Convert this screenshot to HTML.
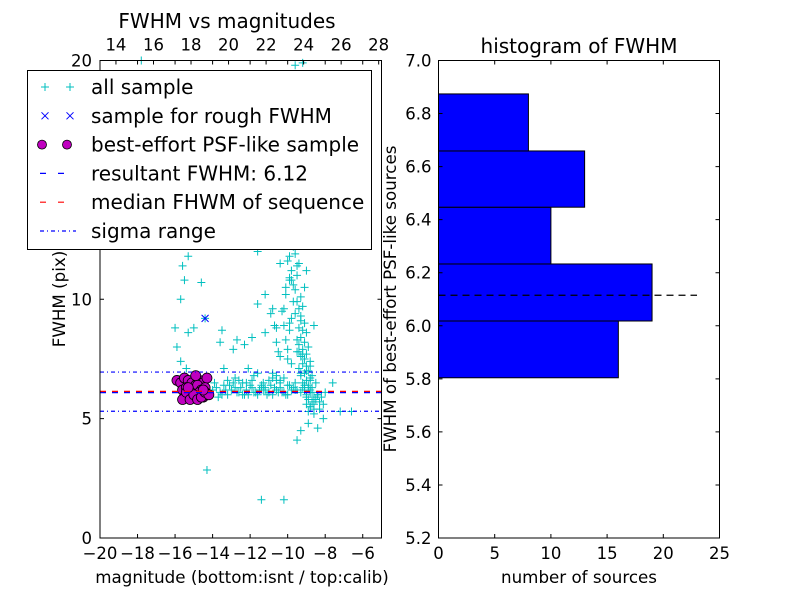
<!DOCTYPE html>
<html><head><meta charset="utf-8"><style>
body{margin:0;background:#fff}
svg text{font-family:"DejaVu Sans","Liberation Sans",sans-serif;fill:#000}
</style></head><body>
<svg id="fig" width="800" height="600" xmlns="http://www.w3.org/2000/svg">
<rect width="800" height="600" fill="#fff"/>
<g id="left"></g>
<g id="right"></g>
</svg>
<script>
// ---- data ----
const allMag=[
-9.6,-9.7,-9.5,-9.4,-9.8,-9.6,-9.5,-9.7,-9.9,-9.6,
-9.8,-9.7,-9.5,-9.9,-10.0,-9.6,-9.4,-9.8,-9.5,-9.7,
-9.9,-10.1,-9.6,-9.3,-9.5,-9.2,-9.4,-9.6,-9.8,-9.3,
-9.1,-9.4,-9.2,-9.0,-9.3,-9.5,-9.1,-8.9,-9.2,-9.4,
-9.0,-9.3,-9.1,-8.8,-9.2,-9.0,-9.4,-8.9,-9.1,-9.3,
-8.8,-9.0,-9.2,-8.9,-8.7,-9.1,-8.8,-9.0,-8.6,-8.9,
-8.7,-9.0,-8.8,-8.6,-8.9,-8.5,-8.7,-8.8,-8.4,-8.6,
-14.0,-13.8,-13.6,-13.4,-13.2,-13.0,-12.8,-12.6,-12.4,-12.2,
-12.0,-11.8,-11.6,-11.4,-11.2,-11.0,-10.8,-10.6,-10.4,-10.2,
-10.0,-9.8,-13.9,-13.5,-13.1,-12.7,-12.3,-11.9,-11.5,-11.1,
-10.7,-10.3,-9.9,-9.5,-13.7,-13.3,-12.9,-12.5,-12.1,-11.7,
-11.3,-10.9,-10.5,-10.1,-9.7,-9.3,-11.9,-11.3,-10.8,-10.4,
-10.0,-9.6,-9.2,-8.8,-8.4,-8.2,-8.0,-8.3,-8.5,-8.1,
-15.6,-15.3,-15.7,-15.5,-16.0,-15.9,-15.3,-15.0,-14.4,-13.6,
-12.9,-11.9,-11.2,-12.3,-13.4,-12.1,-15.7,-15.4,-14.3,-11.4,
-10.2,-9.5,-8.6,-8.1,-7.2,-6.6,-8.4,-8.9,-9.3,-7.6,
-10.6,-10.9,-11.2,-10.4,-10.8,-11.4,-11.6,-10.5,-10.1,-9.9,
-10.3,-9.7,-9.5,-9.9,-9.2,-9.0,-10.2,-9.6,-9.8,-9.4,
-14.6,-13.5,-12.7,-11.6,-10.7,-10.0,-9.1,-8.6,-17.8,-9.2,
-10.3,-10.1,-9.9,-9.7,-10.4,-10.2,-9.8,-10.0,-10.6,-10.8,
-9.4,-9.2,-9.0,-8.8,-9.3,-9.1,-8.9,-8.7,-9.5,-9.3,
-11.0,-10.6,-10.2,-9.8,-11.4,-10.8,-10.4,-12.6,-12.2,-11.8,
-13.2,-12.8,-12.4,-11.6,-11.2,-10.6,-9.6,-9.0,-8.8,-8.3];
const allFwhm=[
19.8,18.5,17.6,16.8,16.0,15.2,14.6,13.9,13.4,13.0,
12.6,12.2,12.4,11.8,11.6,11.9,11.5,11.2,11.0,10.6,
10.8,10.2,10.4,10.1,9.9,9.7,9.6,9.4,9.2,9.1,
9.0,8.8,8.7,8.6,8.4,8.3,8.2,8.0,7.9,7.8,
7.7,7.6,7.5,7.4,7.3,7.2,7.1,7.0,6.9,6.8,
6.7,6.6,6.5,6.4,6.3,6.2,6.1,6.0,5.9,5.8,
5.7,5.6,5.5,5.4,5.3,6.5,6.8,7.2,6.0,5.6,
6.2,6.3,6.1,6.4,6.0,6.2,6.3,6.1,6.0,6.2,
6.4,6.1,6.0,6.3,6.2,6.1,6.0,6.2,6.3,6.1,
6.0,6.2,6.5,6.0,6.4,6.1,6.0,6.3,6.2,6.0,
6.3,6.1,6.4,6.2,5.9,6.2,6.5,6.3,6.0,6.1,
6.2,6.4,6.1,6.0,6.3,6.1,6.6,6.5,6.7,6.6,
6.4,6.5,6.3,6.2,6.0,5.9,6.1,5.7,5.8,5.6,
11.4,11.8,10.0,10.8,8.8,8.0,8.6,8.8,9.2,8.2,
7.9,8.4,8.6,8.1,7.1,7.1,7.4,7.1,2.85,1.6,
1.6,4.1,5.2,5.0,5.3,5.3,4.6,4.8,4.5,6.5,
8.8,9.4,10.2,11.5,12.9,13.6,12.0,7.8,8.3,9.0,
14.2,12.8,11.4,10.9,12.6,11.2,9.6,17.2,13.6,14.9,
10.7,8.7,8.3,9.8,8.9,7.5,10.5,8.9,20.0,19.9,
9.5,10.5,8.7,9.9,7.6,8.9,10.8,7.9,8.2,9.6,
8.1,7.7,7.0,6.6,6.9,6.4,6.3,6.1,7.8,9.3,
6.6,6.8,6.7,7.3,6.4,6.9,6.5,6.6,6.5,6.8,
6.6,6.7,6.5,6.9,6.3,6.6,6.2,5.9,5.5,5.4];
const psfMag=[-15.9,-15.7,-15.5,-15.3,-15.1,-14.9,-14.7,-14.5,-14.3,-15.6,-15.4,-15.2,-15.0,-14.8,-14.6,-14.4,-15.5,-15.3,-15.1,-14.9,-14.7,-14.5,-14.3,-15.6,-15.4,-15.2,-15.0,-14.8,-14.6,-14.4,-14.2,-15.3,-14.9,-14.5];
const psfFwhm=[6.6,6.5,6.7,6.6,6.5,6.4,6.6,6.5,6.7,6.2,6.3,6.1,6.2,6.4,6.2,6.3,5.9,6.0,5.9,6.0,6.1,5.9,6.0,5.8,6.1,5.8,6.0,5.8,5.9,6.1,6.0,6.3,6.8,6.2];
const roughMag=[-14.4];
const roughFwhm=[9.2];
const resultFwhm=6.12, medianFwhm=6.11, sigmaLo=5.31, sigmaHi=6.95;
const xTicks=[-20,-18,-16,-14,-12,-10,-8,-6];
const topTicks=[14,16,18,20,22,24,26,28];
const yTicks=[0,5,10,20];
const binEdges=[5.804,6.018,6.233,6.447,6.659,6.874];
const binCounts=[16,19,10,13,8];
const histX=[0,5,10,15,20,25];
const histY=[5.2,5.4,5.6,5.8,6.0,6.2,6.4,6.6,6.8,7.0];
const histLineLen=23;

const NS="http://www.w3.org/2000/svg";
function mk(p,t,a){const e=document.createElementNS(NS,t);for(const k in a)e.setAttribute(k,a[k]);p.appendChild(e);return e;}
const L=document.getElementById('left'),R=document.getElementById('right');
const lx0=100,lx1=381.5,ly0=538,ly1=60.5;
const sx=v=>lx0+(v+20)/15*(lx1-lx0);
const sy=v=>ly0-v/20*(ly0-ly1);
const calOff=33.15;
const tx=v=>sx(v-calOff);
allMag.forEach((m,i)=>{const x=sx(m),y=sy(allFwhm[i]);if(y<ly1)return;
 const g=mk(L,'path',{d:`M${x-4},${y}h8M${x},${y-4}v8`,stroke:'#00bfbf','stroke-width':1,fill:'none'});
 
 });
roughMag.forEach((m,i)=>{const x=sx(m),y=sy(roughFwhm[i]);
 const g=mk(L,'path',{d:`M${x-3.5},${y-3.5}l7,7M${x-3.5},${y+3.5}l7,-7`,stroke:'#0000ff','stroke-width':1});
 
 });
psfMag.forEach((m,i)=>{const c=mk(L,'circle',{cx:sx(m),cy:sy(psfFwhm[i]),r:5,fill:'#bf00bf',stroke:'#000','stroke-width':0.8});
 
 });
function hl(v,col,dash,name){const e=mk(L,'line',{x1:lx0,x2:lx1,y1:sy(v),y2:sy(v),stroke:col,'stroke-width':1.2,'stroke-dasharray':dash});
 }
hl(medianFwhm+0.03,'#ff0000','6 6','median-line');
hl(resultFwhm-0.03,'#0000ff','6 6','resultant-line');
hl(sigmaHi,'#0000ff','4 3 1 3','sigma-upper-line');
hl(sigmaLo,'#0000ff','4 3 1 3','sigma-lower-line');
mk(L,'rect',{x:lx0,y:ly1,width:lx1-lx0,height:ly0-ly1,fill:'none',stroke:'#000','stroke-width':1});
xTicks.forEach(v=>{const x=sx(v);mk(L,'path',{d:`M${x},${ly0}v-4M${x},${ly1}v4`,stroke:'#000'});
 const t=mk(L,'text',{x:x,y:ly0+21,'font-size':16.5,'text-anchor':'middle'});t.textContent=(v<0?'\u2212'+(-v):v);
 });
topTicks.forEach(v=>{const x=tx(v);mk(L,'path',{d:`M${x},${ly1}v4`,stroke:'#000'});
 const t=mk(L,'text',{x:x,y:ly1-10,'font-size':16.5,'text-anchor':'middle'});t.textContent=v;
 });
yTicks.forEach(v=>{const y=sy(v);mk(L,'path',{d:`M${lx0},${y}h4M${lx1},${y}h-4`,stroke:'#000'});
 const t=mk(L,'text',{x:lx0-8,y:y+6,'font-size':16.5,'text-anchor':'end'});t.textContent=v;
 });
let t=mk(L,'text',{x:227,y:28,'font-size':20,'text-anchor':'middle'});t.textContent='FWHM vs magnitudes';

t=mk(L,'text',{x:242,y:583,'font-size':16.7,'text-anchor':'middle'});t.textContent='magnitude (bottom:isnt / top:calib)';

t=mk(L,'text',{x:0,y:0,'font-size':16.7,'text-anchor':'middle',transform:'translate(65,299) rotate(-90)'});t.textContent='FWHM (pix)';

const lg=mk(L,'g',{});
mk(lg,'rect',{x:27.5,y:70.5,width:344,height:179,fill:'#fff',stroke:'#000','stroke-width':1});
const labels=['all sample','sample for rough FWHM','best-effort PSF-like sample','resultant FWHM: 6.12','median FHWM of sequence','sigma range'];
labels.forEach((s,i)=>{const y=87+i*28.8;
 [45,70].forEach(x=>{
  if(i==0)mk(lg,'path',{d:`M${x-4},${y}h8M${x},${y-4}v8`,stroke:'#00bfbf'});
  if(i==1)mk(lg,'path',{d:`M${x-3.5},${y-3.5}l7,7M${x-3.5},${y+3.5}l7,-7`,stroke:'#0000ff'});
  if(i==2)mk(lg,'circle',{cx:x-3,cy:y,r:4.5,fill:'#bf00bf',stroke:'#000','stroke-width':0.8});
 });
 if(i==3)mk(lg,'line',{x1:40,x2:76,y1:y,y2:y,stroke:'#0000ff','stroke-dasharray':'6 12','stroke-width':1.2});
 if(i==4)mk(lg,'line',{x1:40,x2:76,y1:y,y2:y,stroke:'#ff0000','stroke-dasharray':'6 12','stroke-width':1.2});
 if(i==5)mk(lg,'line',{x1:40,x2:76,y1:y,y2:y,stroke:'#0000ff','stroke-dasharray':'4 3 1 3','stroke-width':1.2});
 const tt=mk(lg,'text',{x:91,y:y+7,'font-size':20});tt.textContent=s;
 });
const rx0=438.5,rx1=719.5,ry0=538,ry1=60.5;
const hx=v=>rx0+v/25*(rx1-rx0);
const hy=v=>ry0-(v-5.2)/1.8*(ry0-ry1);
binCounts.forEach((c,i)=>{const b=mk(R,'rect',{x:rx0,y:hy(binEdges[i+1]),width:hx(c)-rx0,height:hy(binEdges[i])-hy(binEdges[i+1]),fill:'#0000ff',stroke:'#000','stroke-width':1});
 });
const dl=mk(R,'line',{x1:rx0,x2:hx(histLineLen),y1:hy(resultFwhm-0.005),y2:hy(resultFwhm-0.005),stroke:'#000','stroke-dasharray':'7 5','stroke-width':1.2});

mk(R,'rect',{x:rx0,y:ry1,width:rx1-rx0,height:ry0-ry1,fill:'none',stroke:'#000'});
histX.forEach(v=>{const x=hx(v);mk(R,'path',{d:`M${x},${ry0}v-4M${x},${ry1}v4`,stroke:'#000'});
 const t2=mk(R,'text',{x:x,y:ry0+21,'font-size':16.5,'text-anchor':'middle'});t2.textContent=v;
 });
histY.forEach(v=>{const y=hy(v);mk(R,'path',{d:`M${rx0},${y}h4M${rx1},${y}h-4`,stroke:'#000'});
 const t2=mk(R,'text',{x:rx0-7,y:y+6,'font-size':16.5,'text-anchor':'end'});t2.textContent=v.toFixed(1);
 });
t=mk(R,'text',{x:579,y:53,'font-size':20,'text-anchor':'middle'});t.textContent='histogram of FWHM';

t=mk(R,'text',{x:579,y:583,'font-size':16.7,'text-anchor':'middle'});t.textContent='number of sources';

t=mk(R,'text',{x:0,y:0,'font-size':16.7,'text-anchor':'middle',transform:'translate(396,299) rotate(-90)'});t.textContent='FWHM of best-effort PSF-like sources';

</script>
</body></html>
